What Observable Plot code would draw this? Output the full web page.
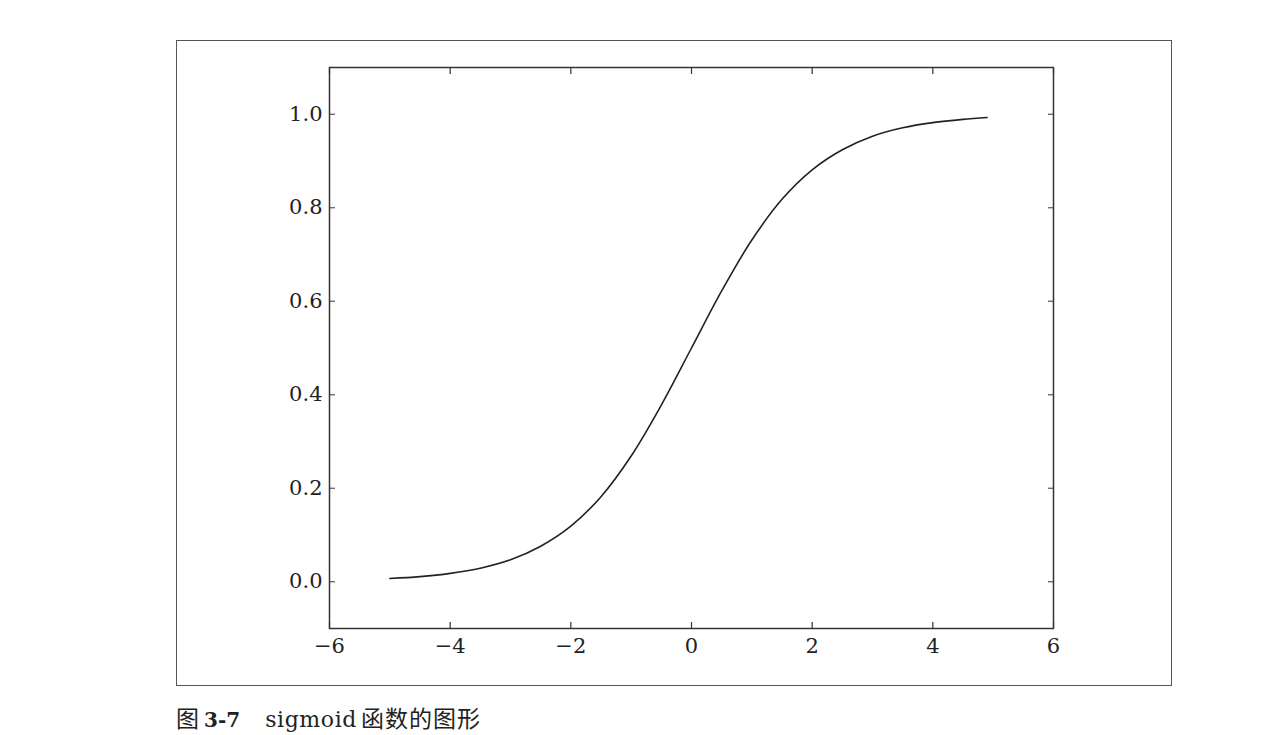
<!DOCTYPE html>
<html>
<head>
<meta charset="utf-8">
<script src="https://cdn.jsdelivr.net/npm/d3@7"></script>
<script src="https://cdn.jsdelivr.net/npm/@observablehq/plot@0.6"></script>
<style>
  html, body { margin: 0; padding: 0; background: #fff; }
  #frame { position: absolute; left: 176px; top: 40px; width: 996px; height: 646px; border: 1.5px solid #555; box-sizing: border-box; }
  #frame svg { position: absolute; left: -1.5px; top: -1.5px; max-width: none !important; }
  #caption { position: absolute; left: 176px; top: 700px; color: #222; white-space: pre; line-height: 34px; }
  .cjk { font-family: "Noto Sans CJK SC", sans-serif; font-size: 23px; }
  .ser { font-family: "DejaVu Serif", serif; font-size: 22px; }
</style>
</head>
<body>
<div id="frame"></div>
<div id="caption"><span class="cjk">图</span><span class="ser" style="font-weight:700; font-size:20px; margin-left:5px">3-7</span><span class="ser" style="margin-left:25px; letter-spacing:0.6px">sigmoid</span><span class="cjk" style="margin-left:4px; letter-spacing:1px">函数的图形</span></div>
<script>
const xs = [-5, -4.5, -4, -3.5, -3, -2.5, -2, -1.5, -1, -0.5, 0, 0.5, 1, 1.5, 2, 2.5, 3, 3.5, 4, 4.5, 4.9];
const ys = [0.007, 0.011, 0.018, 0.029, 0.047, 0.076, 0.119, 0.182, 0.269, 0.378, 0.5, 0.622, 0.731, 0.818, 0.881, 0.924, 0.953, 0.971, 0.982, 0.989, 0.993];
const xTicks = [-6, -4, -2, 0, 2, 4, 6];
const yTicks = [0.0, 0.2, 0.4, 0.6, 0.8, 1.0];

const data = xs.map((x, i) => ({x, y: ys[i]}));
const fmtY = d => d.toFixed(1);
const fmtX = d => d < 0 ? "\u2212" + Math.abs(d) : String(d);

const plot = Plot.plot({
  width: 997,
  height: 647,
  marginLeft: 153,
  marginRight: 120,
  marginTop: 27,
  marginBottom: 59,
  style: {fontFamily: "DejaVu Serif, serif", fontSize: "21px", color: "#222", background: "transparent", maxWidth: "none"},
  x: {domain: [-6, 6], ticks: xTicks},
  y: {domain: [-0.1, 1.1], ticks: yTicks},
  marks: [
    Plot.axisX({anchor: "bottom", ticks: xTicks, tickSize: -6, tickPadding: 16, tickFormat: fmtX, label: null, stroke: "#333", strokeWidth: 1.2, fontSize: 21}),
    Plot.axisX({anchor: "top", ticks: xTicks, tickSize: -6, tickFormat: () => "", label: null, stroke: "#333", strokeWidth: 1.2}),
    Plot.axisY({anchor: "left", ticks: yTicks, tickSize: -6, tickPadding: 13, tickFormat: fmtY, label: null, stroke: "#555", strokeWidth: 1.2, fontSize: 21}),
    Plot.axisY({anchor: "right", ticks: yTicks, tickSize: -6, tickFormat: () => "", label: null, stroke: "#555", strokeWidth: 1.2}),
    Plot.frame({stroke: "#333", strokeWidth: 1.5}),
    Plot.line(data, {x: "x", y: "y", curve: "catmull-rom", stroke: "#222", strokeWidth: 1.6})
  ]
});
document.getElementById("frame").appendChild(plot);
</script>
</body>
</html>
